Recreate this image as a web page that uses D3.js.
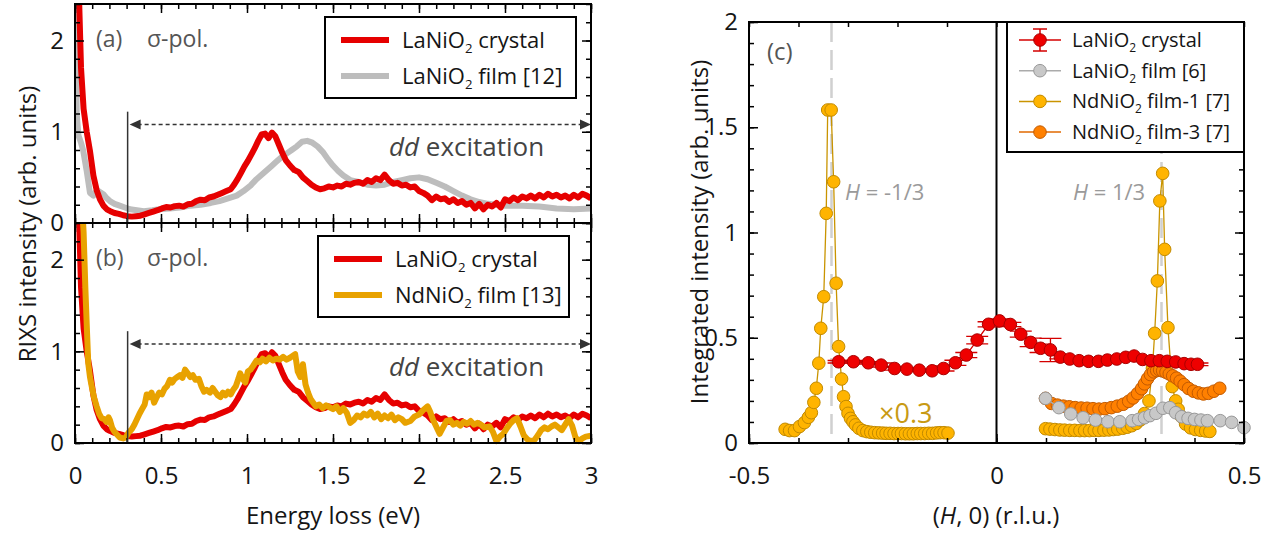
<!DOCTYPE html>
<html>
<head>
<meta charset="utf-8">
<script src="https://cdn.jsdelivr.net/npm/d3@7"></script>
<style>
  body { margin: 0; background: #fff; }
</style>
</head>
<body>
<script>
const width = 1276, height = 540
const font = '"Open Sans", "Noto Sans", sans-serif'

// ---- panels (a)/(b): RIXS spectra, [energy loss (eV), intensity] ----
const laCrystal = [
  [0.000, 3.0], [0.020, 2.7], [0.035, 1.7], [0.050, 1.25], [0.068, 1.00], [0.087, 0.79], [0.107, 0.52],
  [0.126, 0.36], [0.145, 0.26], [0.165, 0.19], [0.185, 0.15], [0.205, 0.13], [0.23, 0.11], [0.255, 0.10],
  [0.28, 0.085], [0.305, 0.075], [0.33, 0.07], [0.355, 0.075], [0.38, 0.08], [0.405, 0.095], [0.43, 0.11],
  [0.455, 0.125], [0.48, 0.14], [0.505, 0.16], [0.53, 0.175], [0.555, 0.17], [0.58, 0.185], [0.605, 0.19],
  [0.63, 0.18], [0.655, 0.205], [0.68, 0.21], [0.705, 0.24], [0.73, 0.255], [0.755, 0.25], [0.78, 0.28],
  [0.805, 0.29], [0.83, 0.31], [0.855, 0.33], [0.88, 0.35], [0.905, 0.37], [0.925, 0.42], [0.945, 0.48],
  [0.965, 0.55], [0.985, 0.62], [1.005, 0.68], [1.025, 0.75], [1.045, 0.82], [1.065, 0.90], [1.085, 0.97],
  [1.105, 0.98], [1.125, 0.93], [1.145, 0.99], [1.165, 0.95], [1.185, 0.86], [1.205, 0.77], [1.225, 0.69],
  [1.25, 0.63], [1.275, 0.58], [1.30, 0.56], [1.325, 0.50], [1.35, 0.46], [1.375, 0.42], [1.40, 0.39],
  [1.425, 0.37], [1.45, 0.38], [1.475, 0.40], [1.50, 0.39], [1.525, 0.41], [1.55, 0.40], [1.575, 0.43],
  [1.60, 0.42], [1.625, 0.44], [1.65, 0.45], [1.675, 0.43], [1.70, 0.47], [1.725, 0.45], [1.75, 0.49],
  [1.775, 0.47], [1.80, 0.53], [1.825, 0.47], [1.85, 0.43], [1.875, 0.44], [1.90, 0.41], [1.925, 0.42],
  [1.95, 0.39], [1.975, 0.40], [2.00, 0.35], [2.025, 0.33], [2.05, 0.30], [2.075, 0.25], [2.10, 0.29],
  [2.125, 0.26], [2.15, 0.27], [2.175, 0.23], [2.20, 0.26], [2.225, 0.22], [2.25, 0.24], [2.275, 0.20],
  [2.30, 0.22], [2.325, 0.16], [2.35, 0.21], [2.375, 0.15], [2.40, 0.20], [2.425, 0.18], [2.45, 0.22],
  [2.475, 0.17], [2.50, 0.26], [2.525, 0.24], [2.55, 0.28], [2.575, 0.25], [2.60, 0.29], [2.625, 0.27],
  [2.65, 0.30], [2.675, 0.27], [2.70, 0.31], [2.725, 0.28], [2.75, 0.32], [2.775, 0.29], [2.80, 0.31],
  [2.825, 0.28], [2.85, 0.30], [2.875, 0.27], [2.90, 0.31], [2.925, 0.28], [2.95, 0.32], [2.975, 0.30],
  [3.00, 0.27]
]

const laFilm = [
  [0.000, 2.8], [0.010, 1.2], [0.020, 0.96], [0.035, 0.88], [0.048, 0.79], [0.068, 0.57], [0.087, 0.33],
  [0.107, 0.30], [0.120, 0.34], [0.136, 0.35], [0.165, 0.315], [0.185, 0.27], [0.203, 0.24], [0.23, 0.21],
  [0.26, 0.19], [0.29, 0.17], [0.32, 0.15], [0.36, 0.14], [0.40, 0.13], [0.45, 0.14], [0.49, 0.15],
  [0.55, 0.16], [0.61, 0.17], [0.67, 0.19], [0.73, 0.20], [0.79, 0.22], [0.84, 0.24], [0.89, 0.27],
  [0.94, 0.30], [0.98, 0.35], [1.02, 0.41], [1.05, 0.47], [1.08, 0.52], [1.11, 0.57], [1.14, 0.62],
  [1.17, 0.67], [1.20, 0.72], [1.23, 0.76], [1.26, 0.80], [1.29, 0.84], [1.32, 0.89], [1.35, 0.90],
  [1.38, 0.88], [1.41, 0.84], [1.44, 0.78], [1.47, 0.70], [1.50, 0.63], [1.53, 0.57], [1.56, 0.52],
  [1.60, 0.47], [1.65, 0.45], [1.70, 0.42], [1.75, 0.41], [1.80, 0.42], [1.85, 0.45], [1.90, 0.47],
  [1.95, 0.49], [2.00, 0.50], [2.05, 0.48], [2.10, 0.44], [2.15, 0.40], [2.20, 0.35], [2.25, 0.30],
  [2.30, 0.26], [2.35, 0.23], [2.40, 0.21], [2.45, 0.20], [2.50, 0.19], [2.60, 0.19], [2.70, 0.18],
  [2.80, 0.16], [2.90, 0.15], [3.00, 0.16]
]

const ndFilm = [
  [0.00, 3.0], [0.035, 2.8], [0.05, 2.3], [0.06, 1.7], [0.068, 1.3], [0.077, 0.87], [0.087, 0.72],
  [0.097, 0.62], [0.11, 0.50], [0.126, 0.40], [0.14, 0.32], [0.155, 0.27], [0.17, 0.26], [0.184, 0.23],
  [0.195, 0.28], [0.203, 0.25], [0.215, 0.17], [0.23, 0.12], [0.245, 0.09], [0.26, 0.06], [0.28, 0.05],
  [0.295, 0.06], [0.31, 0.11], [0.33, 0.15], [0.345, 0.20], [0.36, 0.26], [0.375, 0.32], [0.39, 0.37],
  [0.405, 0.42], [0.417, 0.53], [0.43, 0.50], [0.445, 0.55], [0.46, 0.44], [0.475, 0.50], [0.49, 0.55],
  [0.505, 0.53], [0.52, 0.59], [0.535, 0.62], [0.552, 0.69], [0.565, 0.66], [0.58, 0.70], [0.595, 0.72],
  [0.61, 0.74], [0.625, 0.71], [0.64, 0.80], [0.655, 0.76], [0.67, 0.72], [0.685, 0.74], [0.70, 0.69],
  [0.72, 0.70], [0.735, 0.62], [0.75, 0.56], [0.765, 0.58], [0.785, 0.55], [0.80, 0.60], [0.815, 0.56],
  [0.83, 0.52], [0.845, 0.50], [0.86, 0.55], [0.875, 0.52], [0.89, 0.56], [0.905, 0.53], [0.92, 0.58],
  [0.935, 0.62], [0.95, 0.70], [0.96, 0.76], [0.975, 0.70], [0.99, 0.66], [1.005, 0.78], [1.02, 0.80],
  [1.035, 0.84], [1.056, 0.90], [1.075, 0.88], [1.09, 0.92], [1.11, 0.89], [1.13, 0.93], [1.15, 0.90],
  [1.17, 0.92], [1.19, 0.91], [1.21, 0.94], [1.23, 0.91], [1.25, 0.93], [1.265, 0.95], [1.28, 0.97],
  [1.295, 0.78], [1.31, 0.72], [1.325, 0.86], [1.34, 0.64], [1.355, 0.55], [1.37, 0.48], [1.385, 0.44],
  [1.40, 0.40], [1.42, 0.42], [1.44, 0.38], [1.46, 0.41], [1.48, 0.39], [1.50, 0.37], [1.52, 0.40],
  [1.54, 0.34], [1.56, 0.38], [1.58, 0.33], [1.60, 0.22], [1.62, 0.25], [1.64, 0.30], [1.66, 0.28],
  [1.68, 0.32], [1.70, 0.30], [1.72, 0.34], [1.74, 0.28], [1.76, 0.32], [1.78, 0.26], [1.80, 0.30],
  [1.82, 0.27], [1.84, 0.31], [1.86, 0.25], [1.88, 0.28], [1.90, 0.26], [1.92, 0.22], [1.95, 0.24],
  [1.975, 0.29], [2.00, 0.31], [2.025, 0.36], [2.05, 0.40], [2.065, 0.34], [2.08, 0.26], [2.10, 0.18],
  [2.12, 0.10], [2.14, 0.17], [2.16, 0.24], [2.18, 0.25], [2.20, 0.20], [2.22, 0.22], [2.24, 0.19],
  [2.26, 0.23], [2.28, 0.21], [2.30, 0.24], [2.32, 0.20], [2.34, 0.22], [2.36, 0.20], [2.38, 0.17],
  [2.41, 0.18], [2.43, 0.12], [2.45, 0.02], [2.47, 0.07], [2.49, 0.10], [2.51, 0.16], [2.53, 0.21],
  [2.55, 0.25], [2.57, 0.27], [2.59, 0.18], [2.61, 0.08], [2.63, 0.04], [2.65, 0.02], [2.67, 0.03],
  [2.69, 0.08], [2.71, 0.14], [2.73, 0.17], [2.75, 0.15], [2.77, 0.18], [2.79, 0.20], [2.81, 0.17],
  [2.83, 0.14], [2.85, 0.20], [2.87, 0.26], [2.89, 0.19], [2.91, 0.06], [2.93, 0.02], [2.95, 0.05],
  [2.97, 0.07], [3.00, 0.08]
]

const ddStart = 0.306       // start of the dd excitation window (eV)
const ddArrowLevel = 1.08
const ddLineTop = 1.22

// ---- panel (c): integrated intensity vs H ----
const crystalH = [-0.319, -0.289, -0.259, -0.233, -0.206, -0.181, -0.156, -0.130, -0.107, -0.083, -0.061, -0.039,
  -0.016, 0.006, 0.028, 0.049, 0.069, 0.089, 0.109, 0.129, 0.148, 0.167, 0.186, 0.206, 0.224, 0.243, 0.261,
  0.278, 0.295, 0.312, 0.329, 0.345, 0.362, 0.379, 0.393, 0.406]
const crystalI = [0.386, 0.386, 0.381, 0.370, 0.354, 0.351, 0.346, 0.343, 0.354, 0.381, 0.418, 0.489,
  0.564, 0.580, 0.563, 0.517, 0.478, 0.450, 0.442, 0.408, 0.399, 0.391, 0.388, 0.388, 0.394, 0.399, 0.407,
  0.413, 0.397, 0.391, 0.391, 0.388, 0.385, 0.377, 0.374, 0.374]
const crystalErr = [0.006, 0.006, 0.006, 0.010, 0.008, 0.006, 0.006, 0.006, 0.012, 0.012, 0.012, 0.018,
  0.012, 0.010, 0.010, 0.014, 0.020, 0.020, 0.055, 0.008, 0.006, 0.006, 0.006, 0.006, 0.006, 0.006, 0.006,
  0.006, 0.006, 0.006, 0.006, 0.006, 0.006, 0.006, 0.006, 0.006]

const filmH = [0.099, 0.126, 0.150, 0.175, 0.200, 0.225, 0.249, 0.274, 0.287, 0.299, 0.310, 0.322, 0.336,
  0.350, 0.362, 0.374, 0.387, 0.400, 0.413, 0.426, 0.452, 0.475, 0.500]
const filmI = [0.212, 0.168, 0.138, 0.120, 0.109, 0.101, 0.101, 0.106, 0.112, 0.120, 0.130, 0.141, 0.165,
  0.168, 0.144, 0.125, 0.117, 0.112, 0.109, 0.106, 0.106, 0.098, 0.073]

// NdNiO2 film-1 (scaled x0.3), two scans around H = -1/3 and H = 1/3
const nd1LeftH = [-0.427, -0.418, -0.408, -0.398, -0.388, -0.380, -0.374, -0.369, -0.364, -0.359, -0.355,
  -0.349, -0.344, -0.341, -0.334, -0.329, -0.324, -0.319, -0.313, -0.309, -0.304, -0.300, -0.295, -0.290,
  -0.285, -0.278, -0.270, -0.262, -0.254, -0.246, -0.238, -0.230, -0.223, -0.215, -0.207, -0.199, -0.192,
  -0.184, -0.176, -0.168, -0.160, -0.153, -0.145, -0.137, -0.129, -0.121, -0.114, -0.106, -0.098]
const nd1LeftI = [0.065, 0.059, 0.059, 0.078, 0.097, 0.122, 0.144, 0.193, 0.260, 0.379, 0.545,
  0.695, 1.091, 1.582, 1.582, 1.241, 0.759, 0.458, 0.304, 0.220, 0.173, 0.141, 0.117, 0.101,
  0.086, 0.070, 0.059, 0.054, 0.051, 0.049, 0.048, 0.047, 0.046, 0.046, 0.045, 0.045, 0.045,
  0.044, 0.044, 0.044, 0.045, 0.045, 0.045, 0.046, 0.046, 0.048, 0.049, 0.049, 0.047]
const nd1RightH = [0.099, 0.108, 0.118, 0.128, 0.1375, 0.148, 0.158, 0.1685, 0.178, 0.188, 0.1975, 0.207,
  0.217, 0.227, 0.236, 0.245, 0.255, 0.264, 0.273, 0.2825, 0.291, 0.299, 0.308, 0.315, 0.3195, 0.325,
  0.330, 0.3357, 0.3397, 0.3464, 0.355, 0.362, 0.367, 0.3735, 0.382, 0.392, 0.402, 0.4125, 0.4226, 0.431]
const nd1RightI = [0.068, 0.066, 0.064, 0.062, 0.061, 0.060, 0.060, 0.059, 0.059, 0.059, 0.060, 0.060,
  0.061, 0.062, 0.064, 0.066, 0.070, 0.075, 0.082, 0.093, 0.110, 0.140, 0.200, 0.355, 0.521, 0.770,
  1.150, 1.281, 0.920, 0.548, 0.268, 0.200, 0.160, 0.125, 0.090, 0.072, 0.064, 0.060, 0.057, 0.055]

const nd3H = [0.099, 0.111, 0.123, 0.135, 0.147, 0.159, 0.171, 0.183, 0.195, 0.207, 0.219, 0.232, 0.244,
  0.256, 0.267, 0.276, 0.285, 0.293, 0.299, 0.305, 0.311, 0.3175, 0.3236, 0.3296, 0.3357, 0.3424, 0.349,
  0.356, 0.3637, 0.371, 0.379, 0.388, 0.398, 0.408, 0.418, 0.428, 0.439, 0.451]
const nd3I = [0.212, 0.188, 0.180, 0.175, 0.172, 0.168, 0.166, 0.165, 0.163, 0.161, 0.163, 0.168, 0.175,
  0.184, 0.198, 0.214, 0.235, 0.258, 0.281, 0.305, 0.325, 0.338, 0.344, 0.347, 0.343, 0.336, 0.328,
  0.319, 0.308, 0.294, 0.277, 0.259, 0.246, 0.238, 0.233, 0.236, 0.246, 0.260]

// tick labels
const energyTicks = [0, 0.5, 1, 1.5, 2, 2.5, 3]
const rixsTicks = [0, 1, 2]
const hTicks = [-0.5, 0, 0.5]
const intTicks = [0, 0.5, 1, 1.5, 2]

const red = { line: '#d40000', fill: '#ee0000', stroke: '#a80000' }
const grey = { line: '#ababab', fill: '#c8c8c8', stroke: '#989898' }
const gold = { line: '#c99400', fill: '#ffb400', stroke: '#c28a00' }
const orange = { line: '#e06800', fill: '#ff8000', stroke: '#c25a00' }

const tickFont = 24
const titleFont = 24
const ink = '#151515'

const svg = d3.select('body').append('svg')
  .attr('width', width)
  .attr('height', height)
  .style('font-family', font)

// scales
const xE = d3.scaleLinear().domain([0, 3]).range([75, 591])
const yA = d3.scaleLinear().domain([0, 2.4]).range([223, 4])
const yB = d3.scaleLinear().domain([0, 2.4]).range([443, 223])
const xC = d3.scaleLinear().domain([-0.5, 0.5]).range([749, 1244])
const yC = d3.scaleLinear().domain([0, 2]).range([443, 22])

const defs = svg.append('defs')
defs.append('clipPath').attr('id', 'clipA').append('rect')
  .attr('x', 75).attr('y', 4).attr('width', 516).attr('height', 219)
defs.append('clipPath').attr('id', 'clipB').append('rect')
  .attr('x', 75).attr('y', 223).attr('width', 516).attr('height', 228)

function axisTicks(axis, scale, values, size, labels, pad, transform) {
  const g = svg.append('g').attr('transform', transform)
  g.call(axis(scale).tickValues(values).tickSize(-size).tickPadding(pad)
    .tickFormat(labels ? d => String(d) : ''))
  g.select('.domain').remove()
  g.attr('font-family', font).attr('font-size', tickFont)
  g.selectAll('.tick line').attr('stroke', '#000').attr('stroke-width', 1.5)
  g.selectAll('.tick text').attr('fill', ink)
  return g
}

function chem(text, pre, post) {
  text.append('tspan').text(pre)
  text.append('tspan').text('2').attr('font-size', '0.6em').attr('dy', 5)
  text.append('tspan').text(post).attr('dy', -5)
}

// ===================== panels (a) and (b) =====================
const eMinor = d3.range(0, 3.001, 0.1).map(d => +d.toFixed(1))
const rMinor = d3.range(0, 2.41, 0.2).map(d => +d.toFixed(1))

function spectrumPanel(y, clipId, series, legendOrder, label, legendX, top) {
  const line = d3.line().x(d => xE(d[0])).y(d => y(d[1]))
  const g = svg.append('g').attr('clip-path', `url(#${clipId})`)
  series.forEach(s => {
    g.append('path').datum(s.data)
      .attr('d', line)
      .attr('fill', 'none')
      .attr('stroke', s.color)
      .attr('stroke-width', 6)
      .attr('stroke-linejoin', 'round')
  })

  // ticks
  axisTicks(d3.axisLeft, y, rMinor, 5, false, 10, `translate(${xE(0)},0)`)
  axisTicks(d3.axisLeft, y, rixsTicks, 9, true, 11, `translate(${xE(0)},0)`)
  axisTicks(d3.axisRight, y, rMinor, 5, false, 10, `translate(${xE(3)},0)`)
  axisTicks(d3.axisRight, y, rixsTicks, 9, false, 10, `translate(${xE(3)},0)`)
  axisTicks(d3.axisBottom, xE, eMinor, 5, false, 10, `translate(0,${y(0)})`)
  axisTicks(d3.axisBottom, xE, energyTicks, 9, false, 10, `translate(0,${y(0)})`)
  axisTicks(d3.axisTop, xE, eMinor, 5, false, 10, `translate(0,${top})`)
  axisTicks(d3.axisTop, xE, energyTicks, 9, false, 10, `translate(0,${top})`)

  // dd excitation marker
  const xs = xE(ddStart), xe = xE(3), ya = y(ddArrowLevel)
  svg.append('line')
    .attr('x1', xs).attr('x2', xs).attr('y1', y(ddLineTop)).attr('y2', y(0))
    .attr('stroke', '#333').attr('stroke-width', 1.5)
  svg.append('line')
    .attr('x1', xs + 10).attr('x2', xe - 10).attr('y1', ya).attr('y2', ya)
    .attr('stroke', '#333').attr('stroke-width', 1.4).attr('stroke-dasharray', '4,3')
  svg.append('path')
    .attr('d', `M${xs + 2},${ya} l11,-5 l0,10 Z M${xe},${ya} l-11,-5 l0,10 Z`)
    .attr('fill', '#333')
  const dd = svg.append('text')
    .attr('x', 389).attr('y', y(0.73))
    .attr('font-size', 26).attr('fill', '#444')
  dd.append('tspan').attr('font-style', 'italic').text('dd')
  dd.append('tspan').text(' excitation')

  // panel label
  svg.append('text').attr('x', 96).attr('y', top + 43)
    .attr('font-size', 23).attr('fill', '#555').text(label)
  svg.append('text').attr('x', 147).attr('y', top + 43)
    .attr('font-size', 23).attr('fill', '#555').text('σ-pol.')

  // legend
  const lg = svg.append('g')
  lg.append('rect')
    .attr('x', legendX).attr('y', top + 13).attr('width', 251).attr('height', 81)
    .attr('fill', '#fff').attr('stroke', '#000').attr('stroke-width', 2)
  legendOrder.forEach((s, i) => {
    const ry = top + 36 + i * 36
    lg.append('line')
      .attr('x1', legendX + 16).attr('x2', legendX + 64).attr('y1', ry).attr('y2', ry)
      .attr('stroke', s.color).attr('stroke-width', 6)
    const t = lg.append('text')
      .attr('x', legendX + 77).attr('y', ry + 8)
      .attr('font-size', 22).attr('fill', ink)
    chem(t, s.pre, s.post)
  })

  // frame
  svg.append('rect')
    .attr('x', xE(0)).attr('y', top).attr('width', xE(3) - xE(0)).attr('height', y(0) - top)
    .attr('fill', 'none').attr('stroke', '#000').attr('stroke-width', 2)
}

const crystalSeries = { data: laCrystal, color: '#e60000', pre: 'LaNiO', post: ' crystal' }
const laFilmSeries = { data: laFilm, color: '#bdbdbd', pre: 'LaNiO', post: ' film [12]' }
const ndFilmSeries = { data: ndFilm, color: '#e8a200', pre: 'NdNiO', post: ' film [13]' }

spectrumPanel(yA, 'clipA', [laFilmSeries, crystalSeries], [crystalSeries, laFilmSeries], '(a)', 325, 4)
spectrumPanel(yB, 'clipB', [crystalSeries, ndFilmSeries], [crystalSeries, ndFilmSeries], '(b)', 318, 223)

// bottom energy labels
axisTicks(d3.axisBottom, xE, energyTicks, 0, true, 24, `translate(0,${yB(0)})`)
  .selectAll('.tick line').remove()

svg.append('text')
  .attr('x', 333).attr('y', 524).attr('text-anchor', 'middle')
  .attr('font-size', titleFont).attr('fill', ink)
  .text('Energy loss (eV)')

svg.append('text')
  .attr('transform', 'translate(36,224) rotate(-90)')
  .attr('text-anchor', 'middle')
  .attr('font-size', titleFont).attr('fill', ink)
  .text('RIXS intensity (arb. units)')

// ===================== panel (c) =====================
const hMinor = d3.range(-0.5, 0.501, 0.1).map(d => +d.toFixed(1))
const iMinor = d3.range(0, 2.001, 0.1).map(d => +d.toFixed(1))

// reference lines
;[-1 / 3, 1 / 3].forEach(h => {
  svg.append('line')
    .attr('x1', xC(h)).attr('x2', xC(h)).attr('y1', yC(2)).attr('y2', yC(0))
    .attr('stroke', '#d0d0d0').attr('stroke-width', 2.5).attr('stroke-dasharray', '20,8')
})
svg.append('line')
  .attr('x1', xC(0)).attr('x2', xC(0)).attr('y1', yC(2)).attr('y2', yC(0))
  .attr('stroke', '#000').attr('stroke-width', 2)

const lineC = d3.line().x(d => xC(d[0])).y(d => yC(d[1]))
const zip = (a, b) => a.map((v, i) => [v, b[i]])

function scatterSeries(pts, c, errs) {
  const g = svg.append('g')
  g.append('path').datum(pts)
    .attr('d', lineC).attr('fill', 'none')
    .attr('stroke', c.line).attr('stroke-width', 1.3)
  if (errs) {
    pts.forEach((p, i) => {
      const x = xC(p[0]), y1 = yC(p[1] - errs[i]), y2 = yC(p[1] + errs[i])
      g.append('path')
        .attr('d', `M${x},${y1}V${y2}M${x - 11},${y1}h22M${x - 11},${y2}h22`)
        .attr('stroke', c.line).attr('stroke-width', 1.3).attr('fill', 'none')
    })
  }
  g.selectAll('circle').data(pts).join('circle')
    .attr('cx', d => xC(d[0])).attr('cy', d => yC(d[1]))
    .attr('r', 6.3)
    .attr('fill', c.fill).attr('stroke', c.stroke).attr('stroke-width', 1)
}

scatterSeries(zip(nd1LeftH, nd1LeftI), gold)
scatterSeries(zip(nd1RightH, nd1RightI), gold)
scatterSeries(zip(nd3H, nd3I), orange)
scatterSeries(zip(filmH, filmI), grey)
scatterSeries(zip(crystalH, crystalI), red, crystalErr)

// ticks (c)
axisTicks(d3.axisLeft, yC, iMinor, 5, false, 10, `translate(${xC(-0.5)},0)`)
axisTicks(d3.axisLeft, yC, intTicks, 9, true, 11, `translate(${xC(-0.5)},0)`)
axisTicks(d3.axisRight, yC, iMinor, 5, false, 10, `translate(${xC(0.5)},0)`)
axisTicks(d3.axisRight, yC, intTicks, 9, false, 10, `translate(${xC(0.5)},0)`)
axisTicks(d3.axisBottom, xC, hMinor, 5, false, 10, `translate(0,${yC(0)})`)
axisTicks(d3.axisBottom, xC, hTicks, 9, true, 24, `translate(0,${yC(0)})`)
axisTicks(d3.axisTop, xC, hMinor, 5, false, 10, `translate(0,${yC(2)})`)

// annotations
function hLabel(x, val) {
  const t = svg.append('text').attr('x', x).attr('y', 200)
    .attr('font-size', 22).attr('fill', '#9a9a9a')
  t.append('tspan').attr('font-style', 'italic').text('H')
  t.append('tspan').text(' = ' + val)
}
hLabel(845, '-1/3')
hLabel(1073, '1/3')

svg.append('text').attr('x', 879).attr('y', 423)
  .attr('font-size', 27).attr('fill', '#c89a14').text('×0.3')
svg.append('text').attr('x', 767).attr('y', 60)
  .attr('font-size', 24).attr('fill', '#555').text('(c)')

// legend (c)
const legC = svg.append('g')
legC.append('rect')
  .attr('x', 1007).attr('y', 22).attr('width', 237).attr('height', 130)
  .attr('fill', '#fff').attr('stroke', '#000').attr('stroke-width', 2)
const legItems = [
  { c: red, pre: 'LaNiO', post: ' crystal', err: true },
  { c: grey, pre: 'LaNiO', post: ' film [6]' },
  { c: gold, pre: 'NdNiO', post: ' film-1 [7]' },
  { c: orange, pre: 'NdNiO', post: ' film-3 [7]' }
]
legItems.forEach((d, i) => {
  const ry = 40 + i * 30.7
  legC.append('line')
    .attr('x1', 1019).attr('x2', 1061).attr('y1', ry).attr('y2', ry)
    .attr('stroke', d.c.line).attr('stroke-width', 1.5)
  if (d.err) {
    legC.append('path')
      .attr('d', `M1040,${ry - 11}V${ry + 11}M1033,${ry - 11}h14M1033,${ry + 11}h14`)
      .attr('stroke', d.c.line).attr('stroke-width', 1.5)
  }
  legC.append('circle').attr('cx', 1040).attr('cy', ry).attr('r', 6.3)
    .attr('fill', d.c.fill).attr('stroke', d.c.stroke)
  const t = legC.append('text').attr('x', 1072).attr('y', ry + 7)
    .attr('font-size', 20).attr('fill', ink)
  chem(t, d.pre, d.post)
})

// frame (c)
svg.append('rect')
  .attr('x', xC(-0.5)).attr('y', yC(2)).attr('width', xC(0.5) - xC(-0.5)).attr('height', yC(0) - yC(2))
  .attr('fill', 'none').attr('stroke', '#000').attr('stroke-width', 2)

// axis titles (c)
const xt = svg.append('text')
  .attr('x', 996).attr('y', 524).attr('text-anchor', 'middle')
  .attr('font-size', titleFont).attr('fill', ink)
xt.append('tspan').text('(')
xt.append('tspan').attr('font-style', 'italic').text('H')
xt.append('tspan').text(', 0) (r.l.u.)')

svg.append('text')
  .attr('transform', 'translate(708,232) rotate(-90)')
  .attr('text-anchor', 'middle')
  .attr('font-size', titleFont).attr('fill', ink)
  .text('Integrated intensity (arb. units)')
</script>
</body>
</html>
